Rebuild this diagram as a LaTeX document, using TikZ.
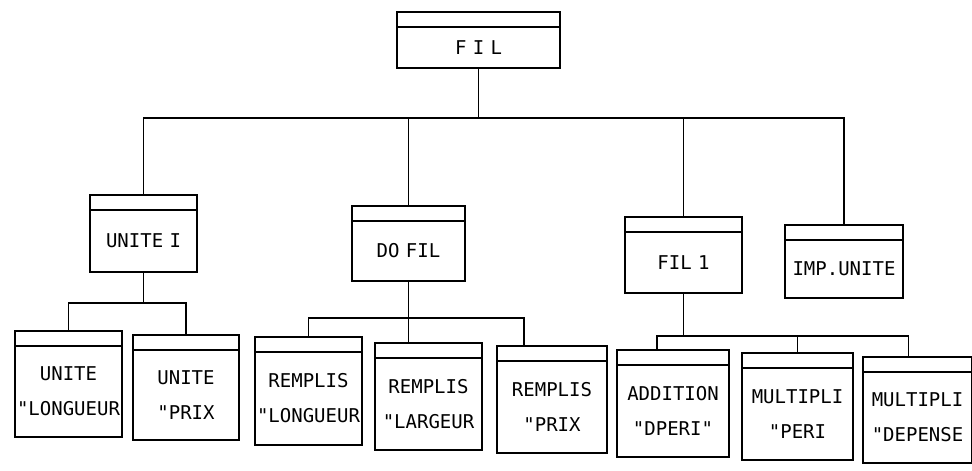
\documentclass[tikz,border=0pt]{standalone}
\usepackage{fontspec}
\newfontfamily\boxfont{DejaVu Sans Mono}
\usepackage{tikz}
\usetikzlibrary{positioning,fit}

\tikzset{
  body/.style={draw, line width=1pt, inner sep=0pt, outer sep=0pt, align=center,
    font={\boxfont\fontsize{9.5}{17.5}\selectfont}},
  band/.style={draw, line width=1pt, inner sep=0pt, outer sep=0pt},
  link/.style={line width=0.7pt},
}

\begin{document}
\begin{tikzpicture}[x=0.5pt, y=-0.5pt]
    \useasboundingbox (0,0) rectangle (972,470);

    % program and its modules
    \node[body, text width=81.5pt, minimum height=20.5pt] (fil) at (478.5,47.5) {F I L};
    \node[body, text width=53.5pt, minimum height=31pt] (unite) at (143.5,241) {UNITE I};
    \node[body, text width=56.5pt, minimum height=30pt] (dofil) at (408.5,251) {DO FIL};
    \node[body, text width=58.5pt, minimum height=30.5pt] (fil1) at (683.5,262.5) {FIL 1};
    \node[body, text width=59pt, minimum height=29pt] (impunite) at (844,269) {IMP.UNITE};

    % instructions
    \node[body, text width=53.5pt, minimum height=45.5pt] (ulong) at (68.5,391.5) {UNITE\\"LONGUEUR};
    \node[body, text width=53pt, minimum height=45pt] (uprix) at (186,395) {UNITE\\"PRIX};
    \node[body, text width=53.5pt, minimum height=46.5pt] (rlong) at (308.5,398.5) {REMPLIS\\"LONGUEUR};
    \node[body, text width=53.5pt, minimum height=46pt] (rlarg) at (428.5,404) {REMPLIS\\"LARGEUR};
    \node[body, text width=55pt, minimum height=46pt] (rprix) at (552,407) {REMPLIS\\"PRIX};
    \node[body, text width=56pt, minimum height=46pt] (add) at (673,411) {ADDITION\\"DPERI"};
    \node[body, text width=55.5pt, minimum height=46pt] (mperi) at (797.5,414) {MULTIPLI\\"PERI};
    \node[body, text width=54.5pt, minimum height=45.5pt] (mdep) at (917.5,417.5) {MULTIPLI\\"DEPENSE};

    % top band of every box
    \foreach \n in {fil,unite,dofil,fil1,impunite,ulong,uprix,rlong,rlarg,rprix,add,mperi,mdep}
        \node[band, fit={(\n.north west) ([yshift=7.5pt]\n.north east)}] (\n-band) {};

    % level 1
    \coordinate (bus0) at (0,118);
    \draw[link] (fil.south) -- (fil.south |- bus0);
    \draw[link] (unite-band.north) -- (unite-band.north |- bus0) -- (impunite-band.north |- bus0) -- (impunite-band.north);
    \foreach \n in {dofil,fil1}
        \draw[link] (\n-band.north) -- (\n-band.north |- bus0);

    % UNITE I
    \coordinate (bus1) at (0,303);
    \draw[link] (unite.south) -- (unite.south |- bus1);
    \draw[link] (ulong-band.north) -- (ulong-band.north |- bus1) -- (uprix-band.north |- bus1) -- (uprix-band.north);

    % DO FIL
    \coordinate (bus2) at (0,318);
    \coordinate (rprix-in) at ([xshift=-14pt]rprix-band.north);
    \draw[link] (dofil.south) -- (dofil.south |- rlarg-band.north);
    \draw[link] (rlong-band.north) -- (rlong-band.north |- bus2) -- (rprix-in |- bus2) -- (rprix-in);

    % FIL 1
    \coordinate (bus3) at (0,336);
    \coordinate (add-in) at ([xshift=-8pt]add-band.north);
    \coordinate (mdep-in) at ([xshift=-4.5pt]mdep-band.north);
    \draw[link] (fil1.south) -- (fil1.south |- bus3);
    \draw[link] (add-in) -- (add-in |- bus3) -- (mdep-in |- bus3) -- (mdep-in);
    \draw[link] (mperi-band.north) -- (mperi-band.north |- bus3);
\end{tikzpicture}
\end{document}
